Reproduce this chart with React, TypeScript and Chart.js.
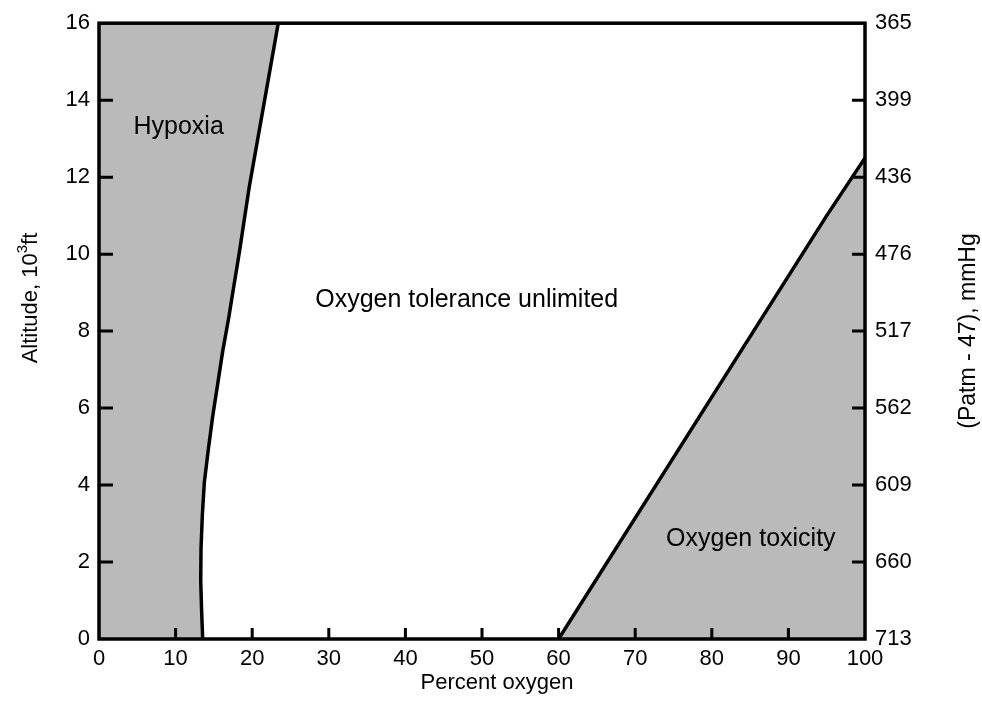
import React, { useEffect, useRef } from "react";
import { Chart, registerables } from "chart.js";

Chart.register(...registerables);

// Boundary between hypoxia and unlimited tolerance (percent O2, altitude 10^3 ft)
const hypoxiaX = [13.54, 13.41, 13.28, 13.32, 13.49, 13.75, 14.27, 14.84, 15.5, 16.15, 16.93, 17.62, 18.32, 18.97, 19.62, 23.4];
const hypoxiaY = [0, 0.66, 1.51, 2.36, 3.22, 4.07, 4.92, 5.78, 6.63, 7.48, 8.34, 9.19, 10.04, 10.9, 11.75, 16];

// Boundary between unlimited tolerance and oxygen toxicity
const toxicityX = [60, 95, 100];
const toxicityY = [0, 11, 12.5];

// Axis ticks
const percentTicks = [0, 10, 20, 30, 40, 50, 60, 70, 80, 90, 100];
const altitudeTicks = [0, 2, 4, 6, 8, 10, 12, 14, 16];
const pressureLabels = ["713", "660", "609", "562", "517", "476", "436", "399", "365"];

// Region labels
const regionLabels = ["Hypoxia", "Oxygen tolerance unlimited", "Oxygen toxicity"];
const regionLabelX = [10.4, 48.0, 85.1];
const regionLabelY = [13.3, 8.8, 2.6];

const FONT = "'Liberation Sans', Arial, Helvetica, sans-serif";
const FILL = "#bababa";

export default function App() {
  const ref = useRef<HTMLCanvasElement | null>(null);

  useEffect(() => {
    const canvas = ref.current;
    if (!canvas) return;
    const xMin = percentTicks[0];
    const xMax = percentTicks[percentTicks.length - 1];
    const yMin = altitudeTicks[0];
    const yMax = altitudeTicks[altitudeTicks.length - 1];

    const hypoxiaCurve = hypoxiaX.map((x, i) => ({ x, y: hypoxiaY[i] }));
    const toxicityCurve = toxicityX.map((x, i) => ({ x, y: toxicityY[i] }));
    const hypoxiaPoly = [{ x: xMin, y: yMin }, ...hypoxiaCurve, { x: xMin, y: yMax }];
    const toxicityPoly = [...toxicityCurve, { x: xMax, y: yMin }];

    const decor = {
      id: "decor",
      afterDatasetsDraw(chart: any) {
        const ctx = chart.ctx;
        const { left, right, top, bottom } = chart.chartArea;
        const xs = chart.scales.x;
        const ys = chart.scales.y;
        ctx.save();
        // region labels
        ctx.fillStyle = "#000";
        ctx.font = `25px ${FONT}`;
        ctx.textAlign = "center";
        ctx.textBaseline = "middle";
        regionLabels.forEach((t, i) => {
          ctx.fillText(t, xs.getPixelForValue(regionLabelX[i]), ys.getPixelForValue(regionLabelY[i]));
        });
        // inner tick marks
        ctx.strokeStyle = "#000";
        ctx.lineWidth = 3;
        ctx.beginPath();
        altitudeTicks.slice(1, -1).forEach((v) => {
          const py = ys.getPixelForValue(v);
          ctx.moveTo(left, py);
          ctx.lineTo(left + 14, py);
          ctx.moveTo(right, py);
          ctx.lineTo(right - 13, py);
        });
        percentTicks.slice(1, -1).forEach((v) => {
          const px = xs.getPixelForValue(v);
          ctx.moveTo(px, bottom);
          ctx.lineTo(px, bottom - 11);
        });
        ctx.stroke();
        // frame
        ctx.lineWidth = 3.5;
        ctx.strokeRect(left, top, right - left, bottom - top);

        // axis titles
        ctx.fillStyle = "#000";
        ctx.font = `22px ${FONT}`;
        ctx.textAlign = "center";
        ctx.textBaseline = "middle";
        ctx.fillText("Percent oxygen", 497, 683);

        // left title with superscript
        ctx.save();
        ctx.translate(31, 298);
        ctx.rotate(-Math.PI / 2);
        const a = "Altitude, 10";
        const s = "3";
        const b = "ft";
        ctx.font = `22px ${FONT}`;
        const wa = ctx.measureText(a).width;
        const wb = ctx.measureText(b).width;
        ctx.font = `15px ${FONT}`;
        const ws = ctx.measureText(s).width;
        const total = wa + ws + wb;
        let cx = -total / 2;
        ctx.textAlign = "left";
        ctx.font = `22px ${FONT}`;
        ctx.fillText(a, cx, 0);
        cx += wa;
        ctx.font = `15px ${FONT}`;
        ctx.fillText(s, cx, -8);
        cx += ws;
        ctx.font = `22px ${FONT}`;
        ctx.fillText(b, cx, 0);
        ctx.restore();

        ctx.save();
        ctx.translate(969, 331);
        ctx.rotate(-Math.PI / 2);
        ctx.font = `23px ${FONT}`;
        ctx.textAlign = "center";
        ctx.fillText("(Patm - 47), mmHg", 0, 0);
        ctx.restore();

        ctx.restore();
      },
    };

    const tickFont = { family: FONT, size: 22 };

    const chart = new Chart(canvas, {
      type: "scatter",
      data: {
        datasets: [
          {
            data: hypoxiaCurve,
            showLine: true,
            fill: false,
            borderColor: "#000",
            borderWidth: 3.5,
            tension: 0,
            pointRadius: 0,
            borderJoinStyle: "round",
            order: 0,
          },
          {
            data: toxicityCurve,
            showLine: true,
            fill: false,
            borderColor: "#000",
            borderWidth: 3.5,
            pointRadius: 0,
            borderJoinStyle: "round",
            order: 0,
          },
          {
            data: hypoxiaPoly,
            showLine: true,
            fill: "shape",
            backgroundColor: FILL,
            borderWidth: 0,
            borderColor: "rgba(0,0,0,0)",
            pointRadius: 0,
            order: 1,
          },
          {
            data: toxicityPoly,
            showLine: true,
            fill: "shape",
            backgroundColor: FILL,
            borderWidth: 0,
            borderColor: "rgba(0,0,0,0)",
            pointRadius: 0,
            order: 1,
          },
        ],
      } as any,
      options: {
        responsive: false,
        animation: false,
        events: [],
        layout: { padding: { top: 14, left: 0, right: 0, bottom: 0 } },
        plugins: {
          legend: { display: false },
          tooltip: { enabled: false },
          title: { display: false },
        },
        scales: {
          x: {
            type: "linear",
            min: xMin,
            max: xMax,
            afterBuildTicks: (s: any) => {
              s.ticks = percentTicks.map((v) => ({ value: v }));
            },
            grid: { display: false, drawTicks: false },
            border: { display: false },
            ticks: { color: "#000", font: tickFont, padding: 7, maxRotation: 0, autoSkip: false },
            afterFit: (s: any) => {
              s.height = 78;
            },
          },
          y: {
            type: "linear",
            position: "left",
            min: yMin,
            max: yMax,
            afterBuildTicks: (s: any) => {
              s.ticks = altitudeTicks.map((v) => ({ value: v }));
            },
            grid: { display: false, drawTicks: false },
            border: { display: false },
            ticks: { color: "#000", font: tickFont, padding: 9, autoSkip: false },
            afterFit: (s: any) => {
              s.width = 99;
            },
          },
          y2: {
            type: "linear",
            position: "right",
            min: yMin,
            max: yMax,
            afterBuildTicks: (s: any) => {
              s.ticks = altitudeTicks.map((v) => ({ value: v }));
            },
            grid: { display: false, drawTicks: false },
            border: { display: false },
            ticks: {
              color: "#000",
              font: tickFont,
              padding: 10,
              autoSkip: false,
              callback: (v: any) => pressureLabels[altitudeTicks.indexOf(Number(v))] ?? "",
            },
            afterFit: (s: any) => {
              s.width = 117;
            },
          },
        },
      } as any,
      plugins: [decor],
    });
    return () => chart.destroy();
  }, []);

  return (
    <div style={{ position: "fixed", left: 0, top: 0, width: 982, height: 717, background: "#fff" }}>
      <canvas ref={ref} width={982} height={717} style={{ width: 982, height: 717, display: "block" }} />
    </div>
  );
}
